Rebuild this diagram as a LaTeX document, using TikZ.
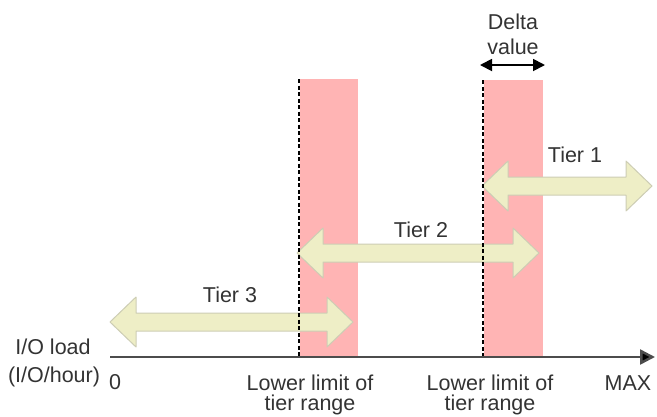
\documentclass[tikz,border=0pt]{standalone}
\usepackage{fontspec}
\setmainfont{Liberation Sans}
\usetikzlibrary{arrows.meta}

\definecolor{bandpink}{RGB}{255,180,180}
\definecolor{tierfill}{RGB}{238,238,198}
\definecolor{tierline}{RGB}{205,205,180}
\definecolor{txtgray}{RGB}{51,51,51}

\tikzset{
  lbl/.style={text=txtgray, font=\fontsize{21.5}{25}\selectfont, inner sep=0pt, align=center},
  band/.style={fill=bandpink},
  lowlim/.style={black, line width=1.3pt, dash pattern=on 4pt off 2.5pt},
  tierarrow/.style={fill=tierfill, draw=tierline, line width=1pt, line join=round},
  axis/.style={draw=black!70, line width=2.5pt, -{Triangle[length=15pt,width=15pt,fill=black]}},
  delta/.style={black, line width=1.8pt, {Triangle[length=12pt,width=12pt]}-{Triangle[length=12pt,width=12pt]}}
}

\begin{document}
\begin{tikzpicture}[x=1pt,y=-1pt]
\useasboundingbox (0,0) rectangle (657,416);
\fill[band] (300,79) rectangle (358,357);
\fill[band] (484,80) rectangle (543,357);

\foreach \xa/\xb/\yy in {482/652/186, 297/539/253, 110/353/322} {
 \filldraw[tierarrow] (\xa,\yy) -- ++(26,-25) -- ++(0,16) -- (\xb-26,\yy-9) --
   ++(0,-16) -- (\xb,\yy) -- (\xb-26,\yy+25) -- ++(0,-16) -- (\xa+26,\yy+9) --
   ++(0,16) -- cycle;
}

\coordinate (lim1top) at (299,79);
\coordinate (lim1bot) at (299,357);
\coordinate (lim2top) at (483,80);
\coordinate (lim2bot) at (483,357);
\draw[lowlim] (lim1top) -- (lim1bot);
\draw[lowlim] (lim2top) -- (lim2bot);

\coordinate (origin) at (110,357);
\coordinate (axisend) at (655,357);
\draw[axis] (origin) -- (axisend);

\coordinate (deltal) at (480,65);
\coordinate (deltar) at (545,65);
\draw[delta] (deltal) -- (deltar);

\node[lbl] (deltatxt) at (513,22) {Delta};
\node[lbl] (valuetxt) at (513,47) {value};
\node[lbl] (tier1) at (575,155) {Tier 1};
\node[lbl] (tier2) at (421,230) {Tier 2};
\node[lbl] (tier3) at (230,295) {Tier 3};
\node[lbl] (ioload) at (53,347) {I/O load};
\node[lbl] (iohour) at (54,377) {(I/O/hour)};
\node[lbl] (zero) at (115,382) {0};
\node[lbl] (lower1) at (310,383) {Lower limit of};
\node[lbl] (range1) at (310,405) {tier range};
\node[lbl] (lower2) at (490,383) {Lower limit of};
\node[lbl] (range2) at (490,405) {tier range};
\node[lbl] (max) at (628,383) {MAX};
\end{tikzpicture}
\end{document}
